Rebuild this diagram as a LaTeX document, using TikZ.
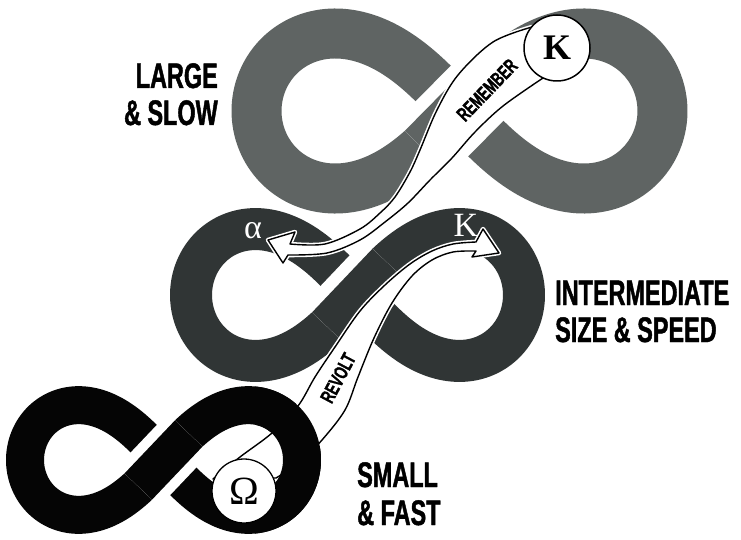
\documentclass[tikz,border=0pt]{standalone}
\usepackage{fontspec}
\setmainfont{Liberation Serif}
\newfontfamily\condfont[FakeStretch=0.66, FakeBold=1.2]{Liberation Sans}
\definecolor{lgray}{RGB}{95,100,99}
\definecolor{mgray}{RGB}{48,53,53}
\definecolor{sblack}{RGB}{5,5,5}
% lemniscate with a gap in the under-passing band:
% cx cy a s width colour tstart tend
\newcommand{\lemngap}[8]{%
  \draw[line width=#5, draw=#6, line join=round, line cap=butt]
    plot[domain=#7:#8, samples=300, smooth, variable=\t]
    ({#1+#3*cos(\t)/(1+sin(\t)*sin(\t))},{#2+#4*#3*sin(\t)*cos(\t)/(1+sin(\t)*sin(\t))});}
\tikzset{
  band/.style={fill=white, draw=black, line width=1.4pt, line join=round,
    preaction={draw=white, line width=4.5pt, line join=round}},
  lab/.style={font=\condfont\bfseries\fontsize{35.5pt}{35.5pt}\selectfont, inner sep=0pt, text=black},
  bandtxt/.style={font=\condfont\bfseries\fontsize{20pt}{20pt}\selectfont, inner sep=0pt, text=black},
  ring/.style={circle, draw=black, fill=white, inner sep=0pt},
  greek/.style={inner sep=0pt, text=white, font=\fontsize{34pt}{34pt}\selectfont},
  gapcut/.style={draw=white, line cap=butt},
  over/.style={line cap=butt}
}
\begin{document}
\begin{tikzpicture}[x=1pt,y=-1pt]
\path[use as bounding box, fill=white] (0,0) rectangle (741,540);

% large & slow
\lemngap{459.5}{111}{203}{1.08}{50pt}{lgray}{104}{436}
\coordinate (LA) at (422.6,148.4); \coordinate (LB) at (496.4,73.6);
\draw[gapcut, line width=76pt] (LA) -- (LB);
\draw[over, draw=lgray, line width=50pt] (LA) -- (LB);
% intermediate
\lemngap{357.5}{295}{166.5}{1.12}{42pt}{mgray}{104}{436}
\coordinate (IA) at (327.3,326.8); \coordinate (IB) at (387.7,263.2);
\draw[gapcut, line width=66pt] (IA) -- (IB);
\draw[over, draw=mgray, line width=42pt] (IA) -- (IB);
% small & fast
\lemngap{163.5}{460}{138.5}{1.12}{38pt}{sblack}{104}{436}
\coordinate (SA) at (138.3,486.5); \coordinate (SB) at (188.7,433.5);
\draw[gapcut, line width=58pt] (SA) -- (SB);
\draw[over, draw=sblack, line width=38pt] (SA) -- (SB);

% remember arrow
\path[band] (532,27) -- plot[smooth, tension=0.55] coordinates {(532,27) (493,42) (458,75) (437,110) (420,150) (410,172) (395,197) (380,213) (360,229) (325,244) (290,244)}
  -- (295,232) -- (268,240) -- (283,263) -- (288,255)
  -- plot[smooth, tension=0.55] coordinates {(288,255) (327,253) (360,240) (385,222) (408,203) (430,180) (452,158) (475,132) (503,106) (543,78)} -- cycle;

% revolt arrow
\path[band] (213,479) -- plot[smooth, tension=0.55] coordinates {(213,479) (240,457) (272,433) (298,406) (315,377) (335,347) (360,311) (385,285) (410,264) (432,251) (453,244) (476,242)}
  -- (483,229) -- (499,253) -- (472,257) -- (476,251)
  -- plot[smooth, tension=0.55] coordinates {(476,251) (453,252) (432,260) (412,276) (392,303) (374,338) (358,377) (345,410) (322,440) (300,462) (276,478)} -- cycle;

% the right loop of the small cycle lies over the foot of the revolt band
\begin{scope}
  \clip (255,380) rectangle (345,540);
  \lemngap{163.5}{460}{138.5}{1.12}{38pt}{sblack}{104}{436}
\end{scope}

% circles
\node[ring, line width=1.5pt, minimum size=66pt, font=\bfseries\fontsize{36pt}{36pt}\selectfont] (Ktop) at (557,48) {K};
\node[ring, line width=1.3pt, minimum size=64pt, font=\fontsize{40pt}{40pt}\selectfont] (Om) at (244,491) {Ω};

% greek letters in the intermediate loop
\node[greek] (alpha) at (253,231) {α};
\node[greek] (Kmid) at (466,225) {K};

% band texts
\node[bandtxt, rotate=46] (rem) at (487,90) {REMEMBER};
\node[bandtxt, rotate=62] (rev) at (338,378) {REVOLT};

% labels
\node[lab, anchor=base east] (large) at (218,88) {LARGE};
\node[lab, anchor=base east] (slow) at (218,125) {\&~SLOW};
\node[lab, anchor=base west] (inter) at (555,305) {INTERMEDIATE};
\node[lab, anchor=base west] (sizesp) at (555,342) {SIZE \& SPEED};
\node[lab, anchor=base west] (small) at (357,487) {SMALL};
\node[lab, anchor=base west] (fast) at (357,525) {\& FAST};
\end{tikzpicture}
\end{document}
